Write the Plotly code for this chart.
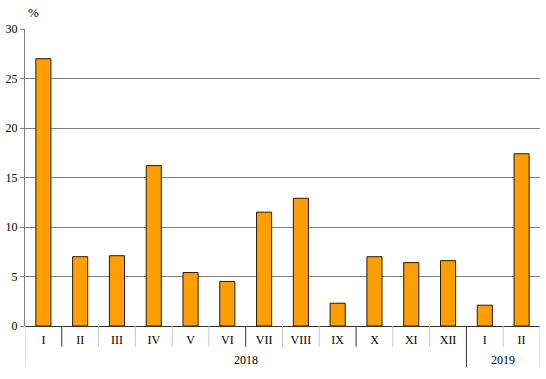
import plotly.graph_objects as go

months = ["I", "II", "III", "IV", "V", "VI", "VII", "VIII", "IX", "X", "XI", "XII", "I", "II"]
years = ["2018"] * 12 + ["2019"] * 2
values = [27.0, 7.0, 7.1, 16.2, 5.4, 4.5, 11.5, 12.9, 2.3, 7.0, 6.4, 6.6, 2.1, 17.4]
y_ticks = [0, 5, 10, 15, 20, 25, 30]

xpos = list(range(len(months)))
FONT = "Liberation Serif"

fig = go.Figure()
fig.add_trace(go.Bar(
    x=xpos, y=values, width=0.41,
    marker=dict(color="#FF9E00", line=dict(color="#2a1a00", width=1)),
    hoverinfo="y",
))

shapes = []
for i in range(1, len(months)):
    year_break = years[i] != years[i - 1]
    dark = i in (1, 6, 9)
    shapes.append(dict(
        type="line", xref="x", yref="paper",
        x0=i - 0.5, x1=i - 0.5, y0=0, y1=-0.138 if year_break else -0.07,
        line=dict(color="#333333" if (dark or year_break) else "#c8c8c8", width=1),
    ))
for xe in (-0.5, len(months) - 0.5):
    shapes.append(dict(
        type="line", xref="x", yref="paper",
        x0=xe, x1=xe, y0=0, y1=-0.138,
        line=dict(color="#d0d0d0", width=1),
    ))

annotations = []
for yr in dict.fromkeys(years):
    idx = [i for i, y in enumerate(years) if y == yr]
    annotations.append(dict(
        x=(idx[0] + idx[-1]) / 2, xref="x", y=-0.114, yref="paper",
        text=yr, showarrow=False, yanchor="middle",
        font=dict(family=FONT, size=12, color="black"),
    ))
annotations.append(dict(
    x=0.016, xref="paper", y=1.057, yref="paper", text="%",
    showarrow=False, xanchor="center", yanchor="middle",
    font=dict(family=FONT, size=13, color="black"),
))

fig.update_layout(
    width=546, height=379,
    margin=dict(l=25, r=6, t=29, b=53, autoexpand=False),
    paper_bgcolor="white", plot_bgcolor="white",
    showlegend=False,
    font=dict(family=FONT, size=12, color="black"),
    bargap=0.5,
    shapes=shapes,
    annotations=annotations,
    xaxis=dict(
        tickvals=xpos, ticktext=months, range=[-0.5, len(months) - 0.5],
        showgrid=False, zeroline=False, ticks="", showline=False,
        ticklabelstandoff=5,
        tickfont=dict(family=FONT, size=12, color="black"),
        fixedrange=True, automargin=False,
    ),
    yaxis=dict(
        range=[0, 30], tickvals=y_ticks, ticktext=[str(v) for v in y_ticks],
        showgrid=True, gridcolor="#7f7f7f", gridwidth=1,
        zeroline=True, zerolinecolor="#333333", zerolinewidth=1,
        showline=True, linecolor="#7f7f7f", linewidth=1,
        ticks="outside", ticklen=4, tickcolor="#7f7f7f",
        tickfont=dict(family=FONT, size=12, color="black"),
        fixedrange=True, automargin=False,
    ),
)

fig.write_html(
    "out.html",
    config={"displayModeBar": False, "staticPlot": True},
    post_script="document.body.style.margin='0px';document.body.style.padding='0px';",
)
